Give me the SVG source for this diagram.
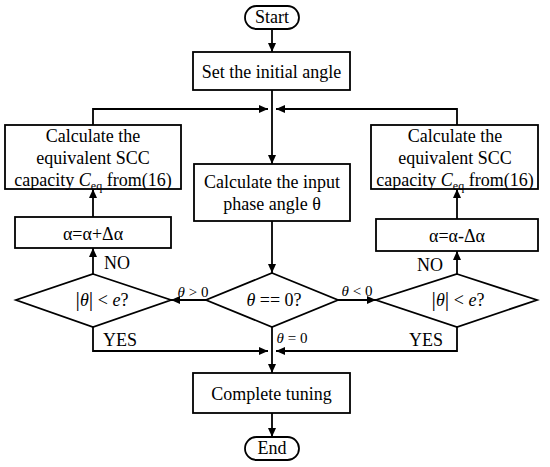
<svg xmlns="http://www.w3.org/2000/svg" width="550" height="467" viewBox="0 0 550 467">
<style>
.b{fill:#fff;stroke:#000;stroke-width:1.8}
.l{fill:none;stroke:#000;stroke-width:1.8}
text{font-family:"Liberation Serif","Times New Roman",serif;font-size:18px;fill:#000;text-anchor:middle}
.s{font-size:15px}
.i{font-style:italic}
</style>
<defs>
<marker id="a" markerUnits="userSpaceOnUse" markerWidth="10" markerHeight="8" refX="9" refY="4" orient="auto">
<path d="M0,0 L9,4 L0,8 Z" fill="#000"/>
</marker>
</defs>
<g id="connectors">
<path class="l" d="M272,29 V52" marker-end="url(#a)"/>
<path class="l" d="M272,90 V164" marker-end="url(#a)"/>
<path class="l" d="M93,125 V109 H268" marker-end="url(#a)"/>
<path class="l" d="M457,125 V109 H276" marker-end="url(#a)"/>
<path class="l" d="M272,221 V273" marker-end="url(#a)"/>
<path class="l" d="M93,217 V189" marker-end="url(#a)"/>
<path class="l" d="M457,219 V189" marker-end="url(#a)"/>
<path class="l" d="M93,274 V248" marker-end="url(#a)"/>
<path class="l" d="M457,274 V251" marker-end="url(#a)"/>
<path class="l" d="M206,300 H171" marker-end="url(#a)"/>
<path class="l" d="M338,300 H376" marker-end="url(#a)"/>
<path class="l" d="M93,327 V351 H268" marker-end="url(#a)"/>
<path class="l" d="M457,327 V351 H276" marker-end="url(#a)"/>
<path class="l" d="M272,327 V373" marker-end="url(#a)"/>
<path class="l" d="M272,413 V437" marker-end="url(#a)"/>
<text x="357" y="296" class="s"><tspan class="i">θ</tspan> &lt; 0</text>
<text x="193" y="297" class="s"><tspan class="i">θ</tspan> &gt; 0</text>
<text x="292" y="343" class="s"><tspan class="i">θ</tspan> = 0</text>
<text x="117" y="269">NO</text>
<text x="430" y="271">NO</text>
<text x="120" y="346">YES</text>
<text x="426" y="346">YES</text>
</g>
<g id="start"><rect class="b" x="245" y="6" width="54" height="23" rx="11.5"/><text x="272" y="23">Start</text></g>
<g id="set"><rect class="b" x="193" y="52" width="157" height="38"/><text x="271.5" y="78">Set the initial angle</text></g>
<g id="calcLeft"><rect class="b" x="5" y="125" width="176" height="64"/>
<text x="93" y="142">Calculate the</text><text x="93" y="164">equivalent SCC</text>
<text x="93" y="186">capacity <tspan class="i">C</tspan><tspan font-size="12" dy="4">eq</tspan><tspan dy="-4"> from(16)</tspan></text></g>
<g id="calcRight"><rect class="b" x="371" y="125" width="167" height="64"/>
<text x="455" y="142">Calculate the</text><text x="455" y="164">equivalent SCC</text>
<text x="455" y="186">capacity <tspan class="i">C</tspan><tspan font-size="12" dy="4">eq</tspan><tspan dy="-4"> from(16)</tspan></text></g>
<g id="phase"><rect class="b" x="194" y="164" width="156" height="57"/>
<text x="272" y="188">Calculate the input</text><text x="272" y="210">phase angle θ</text></g>
<g id="alphaLeft"><rect class="b" x="15" y="217" width="156" height="31"/><text x="93" y="240">α=α+Δα</text></g>
<g id="alphaRight"><rect class="b" x="376" y="219" width="162" height="32"/><text x="457" y="242">α=α-Δα</text></g>
<g id="checkLeft"><path class="b" d="M93,274 L171,300 L93,327 L16,300 Z"/>
<text x="102" y="306"><tspan font-size="22">|</tspan><tspan class="i">θ</tspan><tspan font-size="22">|</tspan> &lt; <tspan class="i">e</tspan>?</text></g>
<g id="checkCenter"><path class="b" d="M272,273 L338,300 L272,327 L206,300 Z"/>
<text x="274" y="306"><tspan class="i">θ</tspan> == 0?</text></g>
<g id="checkRight"><path class="b" d="M457,274 L537,300 L457,327 L376,300 Z"/>
<text x="458" y="306"><tspan font-size="22">|</tspan><tspan class="i">θ</tspan><tspan font-size="22">|</tspan> &lt; <tspan class="i">e</tspan>?</text></g>
<g id="complete"><rect class="b" x="193" y="373" width="157" height="40"/><text x="271.5" y="400">Complete tuning</text></g>
<g id="end"><rect class="b" x="245" y="437" width="54" height="23" rx="11.5"/><text x="272" y="454">End</text></g>
</svg>
